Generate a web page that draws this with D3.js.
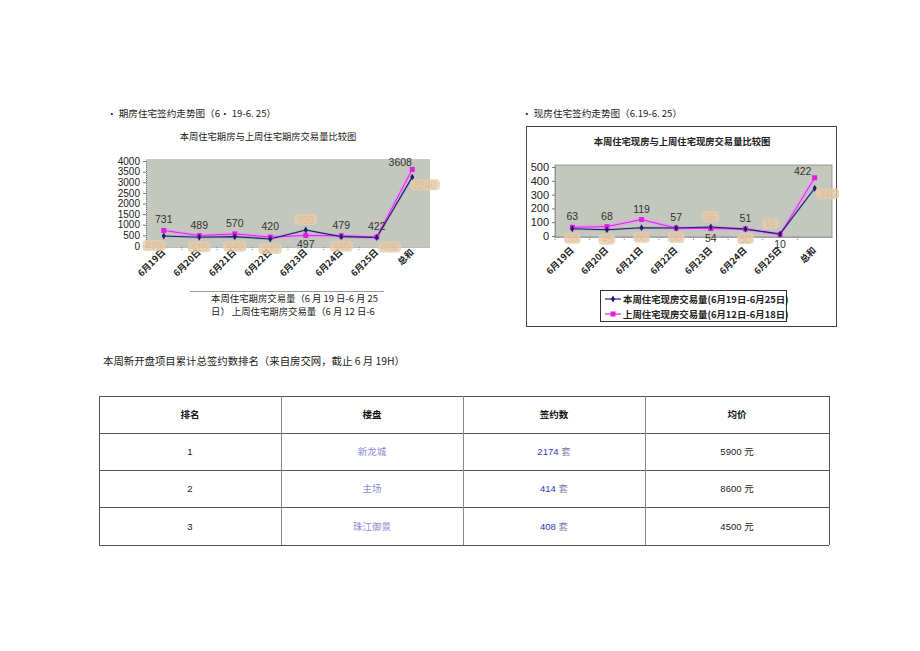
<!DOCTYPE html>
<html><head><meta charset="utf-8">
<script src="https://cdn.jsdelivr.net/npm/d3@7"></script>
<style>body{margin:0;background:#fff}svg{display:block}</style>
</head><body>
<svg id="c" width="920" height="651"></svg>
<script>
// ---------- data ----------
const categories = ["6月19日","6月20日","6月21日","6月22日","6月23日","6月24日","6月25日","总和"];
// 期房 (futures)
const futThisWeek = [470, 410, 440, 330, 750, 440, 400, 3240];
const futLastWeek = [731, 489, 570, 420, 497, 479, 422, 3608];
const futTicks = [0, 500, 1000, 1500, 2000, 2500, 3000, 3500, 4000];
// 现房 (existing)
const curThisWeek = [53, 45, 60, 58, 65, 50, 15, 346];
const curLastWeek = [63, 68, 119, 57, 54, 51, 10, 422];
const curTicks = [0, 100, 200, 300, 400, 500];
// label placement (a=above, b=below, r=right, l=left)
const futLastPos = ["a","a","a","a","b","a","a","l"];
const futThisPos = ["bl","b","b","b","a","b","br","rb"];
const curLastPos = ["a","a","a","a","b","a","b","l"];
const curThisPos = ["b","b","b","b","a","b","al","r"];
// table
const tableHeader = ["排名","楼盘","签约数","均价"];
const ranks = ["1","2","3"];
const projects = ["新龙城","主场","珠江御景"];
const signed = ["2174","414","408"];
const prices = ["5900","8600","4500"];

const svg = d3.select("#c");
const CJK = "'Noto Sans CJK SC','Noto Sans',sans-serif";
const NUM = "'Liberation Sans',Arial,sans-serif";
const NAVY = "#1c1f6a", MAG = "#e21ee0", SHADOW = "#d9a6ea";
const PLOTBG = "#c3c7bd";

function drawChart(o){
  const g = svg.append("g");
  const x = d3.scaleBand().domain(categories).range([o.x0, o.x1]);
  const cx = d => x(d) + x.bandwidth()/2;
  const y = d3.scaleLinear().domain([0, o.max]).range([o.yb, o.yt]);
  g.append("rect").attr("x", o.x0).attr("y", o.pt).attr("width", o.x1-o.x0).attr("height", o.pb-o.pt)
    .attr("fill", PLOTBG).attr("stroke", o.frame ? "#8a8a8a" : "none").attr("stroke-width", 0.8);
  // y axis
  const ya = d3.axisLeft(y).tickValues(o.ticks).tickSize(3).tickPadding(3).tickFormat(d3.format("d"));
  const yg = g.append("g").attr("transform", `translate(${o.x0},0)`).call(ya);
  yg.select(".domain").attr("stroke", "#777").attr("stroke-dasharray", "1,1");
  yg.selectAll(".tick line").attr("stroke", "#777");
  yg.selectAll("text").attr("font-family", NUM).attr("font-size", o.tickFs).attr("fill", "#222");
  // x axis
  const xa = d3.axisBottom(x).tickSize(0).tickFormat("");
  const xg = g.append("g").attr("transform", `translate(0,${o.pb})`).call(xa);
  xg.select(".domain").attr("stroke", "#777").attr("stroke-dasharray", "1,1");
  g.selectAll(".xt").data(categories).join("line").attr("class","xt")
    .attr("x1", d => x(d)).attr("x2", d => x(d)).attr("y1", o.pb).attr("y2", o.pb+3)
    .attr("stroke", "#888").attr("stroke-dasharray", "1,1");
  g.selectAll(".xl").data(categories).join("text").attr("class","xl")
    .attr("transform", d => `translate(${cx(d)+2},${o.pb+o.labOff}) rotate(-45)`)
    .attr("text-anchor", "end").attr("font-family", CJK).attr("font-weight", "bold")
    .attr("font-size", 9).attr("fill", "#222").text(d => d);
  // lines
  const line = vals => d3.line().x((d,i) => cx(categories[i])).y(d => y(d))(vals);
  g.append("path").attr("d", line(o.last)).attr("fill","none").attr("stroke", SHADOW).attr("stroke-width", 4).attr("stroke-linejoin","round");
  g.append("path").attr("d", line(o.this)).attr("fill","none").attr("stroke", "#8a8ab0").attr("stroke-width", 2.5).attr("opacity",0.35);
  g.append("path").attr("d", line(o.last)).attr("fill","none").attr("stroke", MAG).attr("stroke-width", 1);
  g.append("path").attr("d", line(o.this)).attr("fill","none").attr("stroke", NAVY).attr("stroke-width", 1.1);
  g.selectAll(".ms").data(o.last).join("rect").attr("class","ms")
    .attr("x", (d,i) => cx(categories[i])-2.5).attr("y", d => y(d)-2.5).attr("width",5).attr("height",5).attr("fill", MAG);
  g.selectAll(".md").data(o.this).join("path").attr("class","md")
    .attr("d", d3.symbol(d3.symbolDiamond, 14)).attr("transform", (d,i) => `translate(${cx(categories[i])},${y(d)})`).attr("fill", NAVY);
  const off = (p) => {
    let dx = 0, dy = 0;
    if (p.includes("a")) dy = -7;
    if (p.includes("b")) dy = 13;
    if (p.includes("l")) dx = -12;
    if (p.includes("r")) dx = 16;
    return [dx, dy];
  };
  // labels for last week (black)
  g.selectAll(".ll").data(o.last).join("text").attr("class","ll")
    .attr("x", (d,i) => cx(categories[i]) + off(o.lastPos[i])[0])
    .attr("y", (d,i) => y(d) + off(o.lastPos[i])[1] + (o.lastPos[i]==="l" ? -3 : 0))
    .attr("text-anchor","middle").attr("font-family", NUM).attr("font-size", 10.5).attr("fill", "#333").text(d => d);
  // labels for this week (faded orange blobs)
  const tl = g.selectAll(".tl").data(o.this).join("g").attr("class","tl")
    .attr("transform", (d,i) => {
      const p = o.thisPos[i]; const [dx, dy] = off(p);
      const extra = p === "rb" ? -2 : (p === "r" ? 9 : 0);
      return `translate(${cx(categories[i]) + dx*0.8},${y(d) + dy - 3 + extra})`;
    });
  tl.append("rect").attr("x", d => -String(d).length*3.2-2).attr("y", -6).attr("width", d => String(d).length*6.4+4).attr("height", 11)
    .attr("rx", 4).attr("fill", "#e4ccb0").attr("opacity", 0.8);
  tl.append("text").attr("y", 3.5).attr("text-anchor","middle").attr("font-family", NUM).attr("font-size", 10)
    .attr("fill", "#e8b880").attr("opacity", 0.75).text(d => d);
  return {x, y};
}

// ---------- captions ----------
function txt(x, y, s, fs, opts = {}) {
  return svg.append("text").attr("x", x).attr("y", y).attr("font-family", opts.ff || CJK).attr("font-size", fs)
    .attr("font-weight", opts.fw || "normal").attr("fill", opts.fill || "#222")
    .attr("text-anchor", opts.anchor || "start").text(s);
}
txt(107, 117, "· 期房住宅签约走势图（6· 19-6. 25）", 9.6);
txt(522, 117, "· 现房住宅签约走势图（6.19-6. 25）", 9.6);

// ---------- left chart ----------
txt(268, 140, "本周住宅期房与上周住宅期房交易量比较图", 9.3, {anchor: "middle"});
drawChart({x0:146, x1:430, pt:159, pb:247, yb:246, yt:161, max:4000, ticks:futTicks, tickFs:10,
  this:futThisWeek, last:futLastWeek, thisPos:futThisPos, lastPos:futLastPos, labOff:6, frame:false});
svg.append("line").attr("x1",190).attr("x2",384).attr("y1",291.5).attr("y2",291.5).attr("stroke","#999").attr("stroke-width",1);
txt(211, 302, "本周住宅期房交易量（6 月 19 日-6 月 25", 9.4);
txt(211, 315, "日）  上周住宅期房交易量（6 月 12 日-6", 9.4);

// ---------- right chart ----------
svg.append("rect").attr("x",526.5).attr("y",126.5).attr("width",310).attr("height",200).attr("fill","none").attr("stroke","#444").attr("stroke-width",1);
txt(682, 145, "本周住宅现房与上周住宅现房交易量比较图", 9.3, {anchor:"middle", fw:"bold"});
drawChart({x0:555, x1:832, pt:165, pb:237, yb:236, yt:167, max:500, ticks:curTicks, tickFs:11,
  this:curThisWeek, last:curLastWeek, thisPos:curThisPos, lastPos:curLastPos, labOff:14, frame:true});
// legend
svg.append("rect").attr("x",600.5).attr("y",290.5).attr("width",186).attr("height",31).attr("fill","#fff").attr("stroke","#333");
const legendItems = [
  {label:"本周住宅现房交易量(6月19日-6月25日)", color:NAVY, sym:"d"},
  {label:"上周住宅现房交易量(6月12日-6月18日)", color:MAG, sym:"s"}
];
const lg = svg.selectAll(".lg").data(legendItems).join("g").attr("class","lg")
  .attr("transform", (d,i) => `translate(605,${299 + i*15})`);
lg.append("line").attr("x1",0).attr("x2",16).attr("stroke", d => d.color).attr("stroke-width",1.2);
lg.filter(d => d.sym === "s").append("rect").attr("x",5.5).attr("y",-2.5).attr("width",5).attr("height",5).attr("fill",MAG);
lg.filter(d => d.sym === "d").append("path").attr("d", d3.symbol(d3.symbolDiamond, 14)).attr("transform","translate(8,0)").attr("fill",NAVY);
lg.append("text").attr("x",18).attr("y",4).attr("font-family",CJK).attr("font-size",9.4).attr("font-weight","bold").attr("fill","#222").text(d => d.label);

// ---------- table ----------
txt(103, 365, "本周新开盘项目累计总签约数排名（来自房交网，截止 6 月 19H）", 10.4);
const colX = [99, 281, 463, 645, 829];
const rowY = [396, 433, 470, 507, 545];
const tg = svg.append("g");
tg.selectAll(".hl").data(rowY).join("line").attr("class","hl")
  .attr("x1", colX[0]).attr("x2", colX[4]).attr("y1", d => d+0.5).attr("y2", d => d+0.5).attr("stroke","#555").attr("stroke-width",1);
tg.selectAll(".vl").data(colX).join("line").attr("class","vl")
  .attr("x1", d => d+0.5).attr("x2", d => d+0.5).attr("y1", rowY[0]).attr("y2", rowY[4]).attr("stroke", (d,i) => (i===0||i===4) ? "#555" : "#888").attr("stroke-width",1);
const cxCol = i => (colX[i] + colX[i+1]) / 2;
const cyRow = i => (rowY[i] + rowY[i+1]) / 2 + 3.5;
tg.selectAll(".th").data(tableHeader).join("text").attr("class","th")
  .attr("x", (d,i) => cxCol(i)).attr("y", cyRow(0)).attr("text-anchor","middle")
  .attr("font-family", CJK).attr("font-size", 9.5).attr("font-weight","bold").attr("fill","#111").text(d => d);
const rows = ranks.map((r,i) => ({rank:r, proj:projects[i], sign:signed[i], price:prices[i]}));
rows.forEach((r, i) => {
  const yy = cyRow(i+1);
  tg.append("text").attr("x", cxCol(0)).attr("y", yy).attr("text-anchor","middle").attr("font-family",NUM).attr("font-size",9.5).attr("fill","#222").text(r.rank);
  tg.append("text").attr("x", cxCol(1)).attr("y", yy).attr("text-anchor","middle").attr("font-family",CJK).attr("font-size",9.5).attr("fill","#8c8cd2").text(r.proj);
  const t3 = tg.append("text").attr("x", cxCol(2)).attr("y", yy).attr("text-anchor","middle").attr("font-size",9.5);
  t3.append("tspan").attr("font-family",NUM).attr("fill","#3434b4").text(r.sign + " ");
  t3.append("tspan").attr("font-family",CJK).attr("fill","#8080a8").text("套");
  const t4 = tg.append("text").attr("x", cxCol(3)).attr("y", yy).attr("text-anchor","middle").attr("font-size",9.5).attr("fill","#222");
  t4.append("tspan").attr("font-family",NUM).text(r.price + " ");
  t4.append("tspan").attr("font-family",CJK).text("元");
});
</script>
</body></html>
